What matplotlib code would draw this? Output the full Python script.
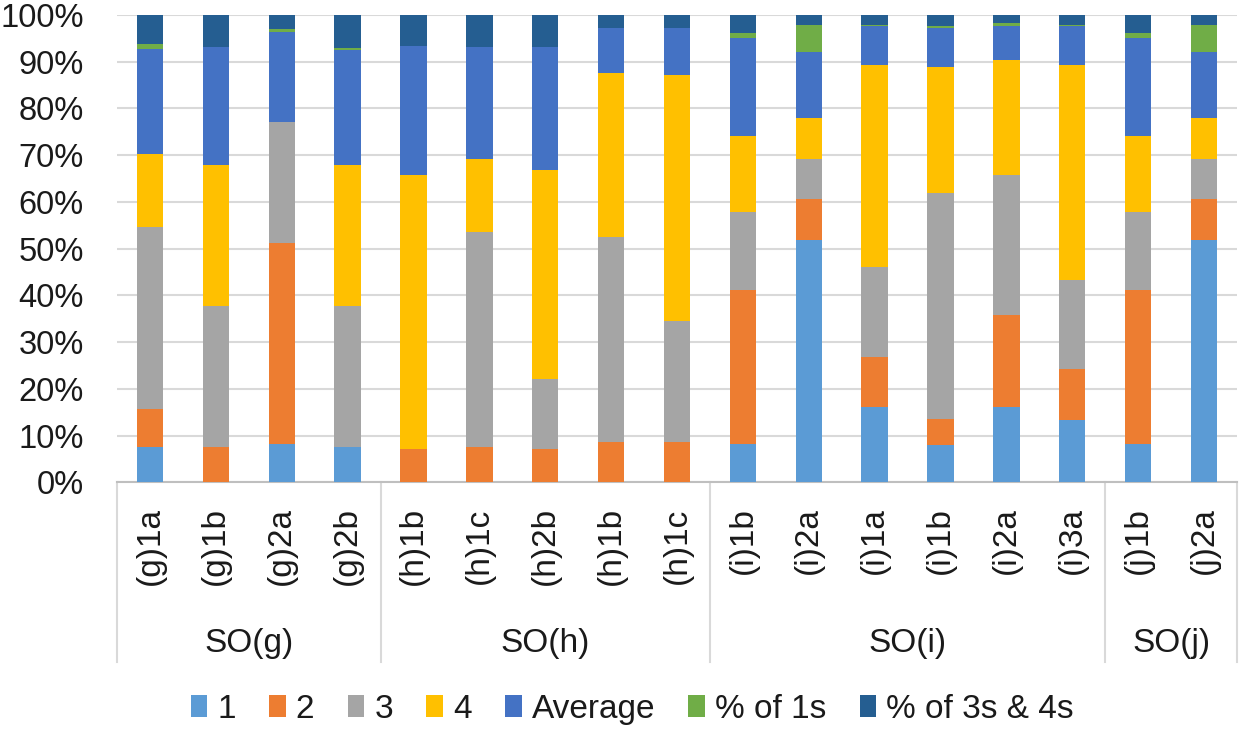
import numpy as np
import matplotlib
matplotlib.use("Agg")
import matplotlib.pyplot as plt
from matplotlib.transforms import blended_transform_factory

plt.rcParams['font.family'] = ['Liberation Sans', 'DejaVu Sans']

cats = ["(g)1a", "(g)1b", "(g)2a", "(g)2b",
        "(h)1b", "(h)1c", "(h)2b", "(h)1b", "(h)1c",
        "(i)1b", "(i)2a", "(i)1a", "(i)1b", "(i)2a", "(i)3a",
        "(j)1b", "(j)2a"]
groups = ["SO(g)", "SO(h)", "SO(i)", "SO(j)"]
group_sizes = [4, 5, 6, 2]

# percent shares
s1   = [7.5, 0.0, 8.3, 7.6, 0.0, 0.0, 0.0, 0.0, 0.0, 8.3, 51.9, 16.2, 7.9, 16.2, 13.4, 8.3, 51.9]
s2   = [8.1, 7.6, 42.9, 0.0, 7.2, 7.6, 7.2, 8.6, 8.6, 32.9, 8.7, 10.7, 5.6, 19.5, 10.8, 32.9, 8.7]
s3   = [39.0, 30.1, 26.0, 30.1, 0.0, 46.0, 14.9, 44.0, 26.0, 16.6, 8.6, 19.1, 48.4, 30.1, 19.0, 16.6, 8.6]
s4   = [15.7, 30.2, 0.0, 30.2, 58.6, 15.6, 44.7, 35.0, 52.6, 16.3, 8.7, 43.3, 27.0, 24.6, 46.1, 16.3, 8.7]
savg = [22.5, 25.3, 19.1, 24.6, 27.6, 24.0, 26.4, 9.7, 10.1, 21.0, 14.2, 8.3, 8.3, 7.2, 8.3, 21.0, 14.2]
s1s  = [1.1, 0.0, 0.6, 0.5, 0.0, 0.0, 0.0, 0.0, 0.0, 1.1, 5.8, 0.3, 0.4, 0.6, 0.3, 1.1, 5.8]
s34  = [6.1, 6.8, 3.1, 7.0, 6.6, 6.8, 6.8, 2.7, 2.7, 3.8, 2.1, 2.1, 2.4, 1.8, 2.1, 3.8, 2.1]

series = [("1", s1, "#5B9BD5"), ("2", s2, "#ED7D31"), ("3", s3, "#A5A5A5"),
          ("4", s4, "#FFC000"), ("Average", savg, "#4472C4"),
          ("% of 1s", s1s, "#70AD47"), ("% of 3s & 4s", s34, "#255E91")]

data = np.array([s for _, s, _ in series], dtype=float)
data = data / data.sum(axis=0) * 100  # 100% stacked

fig = plt.figure(figsize=(12.4, 7.3), dpi=100)
ax = fig.add_axes([117/1240, 1-482.3/730, 1120/1240, 467.3/730])

x = np.arange(len(cats))
bottom = np.zeros(len(cats))
for (name, _, col), vals in zip(series, data):
    ax.bar(x, vals, 0.4, bottom=bottom, color=col, label=name, zorder=3)
    bottom += vals

ax.set_xlim(-0.5, len(cats) - 0.5)
ax.set_ylim(0, 100)
ax.set_yticks(np.arange(0, 101, 10))
ax.set_yticklabels([f"{v}%" for v in range(0, 101, 10)], fontsize=23.5, color="#1a1a1a")
ax.yaxis.grid(True, color="#D9D9D9", lw=1.5, zorder=0)
ax.tick_params(axis="y", length=0, pad=24)
ax.set_xticks(x)
ax.set_xticklabels(cats, rotation=90, fontsize=24, color="#1a1a1a", va="top")
ax.tick_params(axis="x", length=0, pad=18)
for sp in ["left", "right", "top"]:
    ax.spines[sp].set_visible(False)
ax.spines["bottom"].set_color("#BFBFBF")
ax.spines["bottom"].set_linewidth(1.5)

# multi-level category axis: separators and group names
tr = blended_transform_factory(ax.transData, ax.transAxes)
edges = np.concatenate([[0], np.cumsum(group_sizes)]) - 0.5
for e in edges:
    ax.plot([e, e], [0, -0.385], transform=tr, color="#D9D9D9", lw=1.5, clip_on=False)
for g, a, b in zip(groups, edges[:-1], edges[1:]):
    ax.text((a + b) / 2, -0.344, g, transform=tr, ha="center", va="center",
            fontsize=24, color="#1a1a1a")

fig.legend(loc="center", bbox_to_anchor=(0.51, 0.028), ncol=7, frameon=False,
           fontsize=24, handlelength=0.5, handleheight=0.65, handletextpad=0.3,
           columnspacing=1.0, labelcolor="#1a1a1a")

fig.savefig("out.png", dpi=100)
